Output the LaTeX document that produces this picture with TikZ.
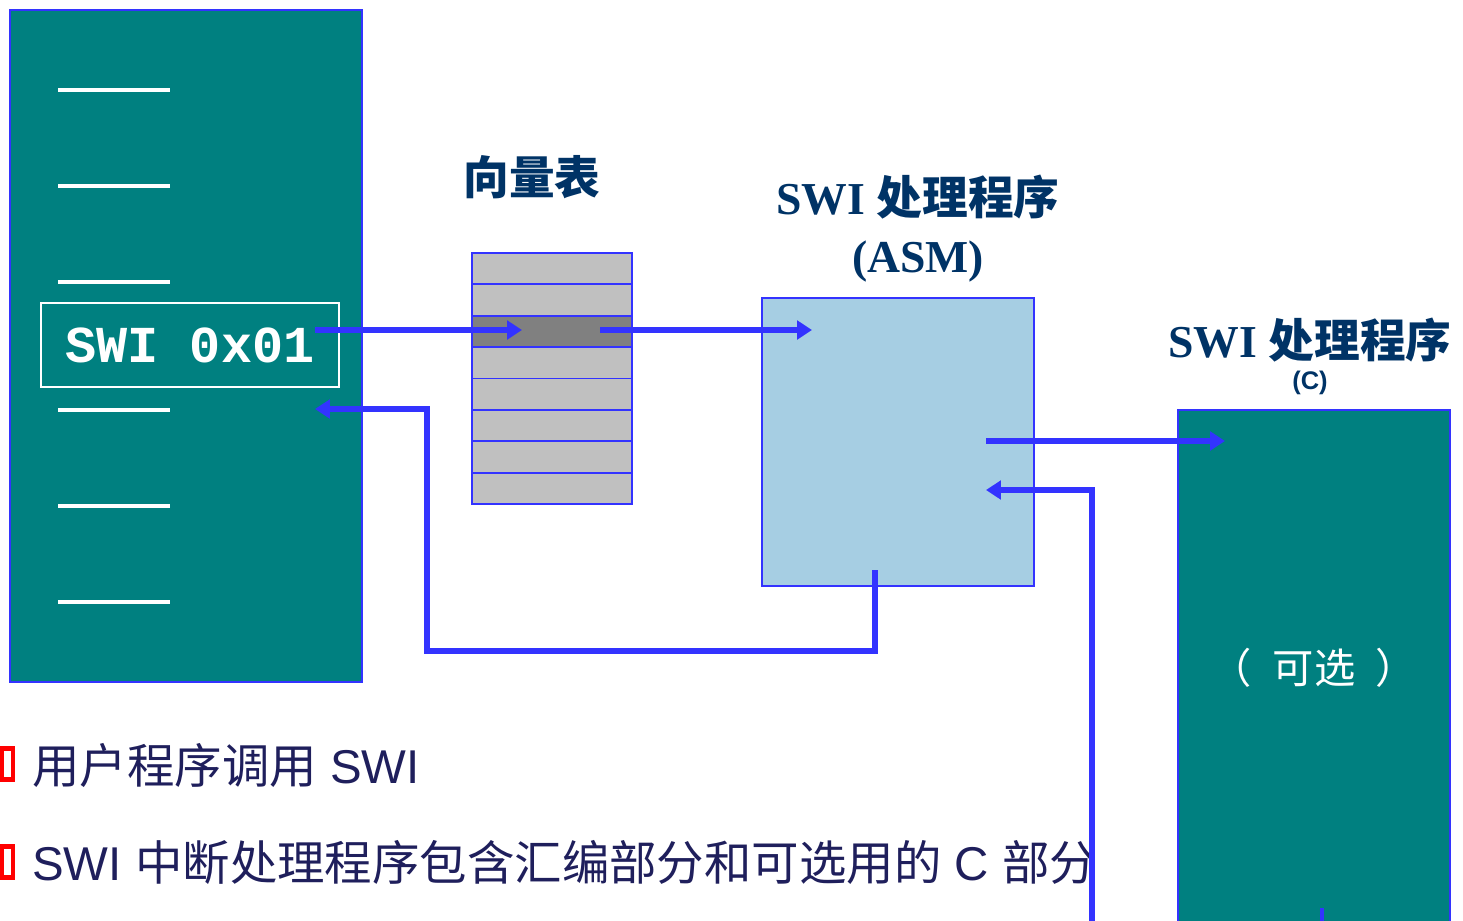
\documentclass[tikz,border=0pt]{standalone}
\usepackage{fontspec}
\setmainfont{Liberation Serif}
\setsansfont{Liberation Sans}
\setmonofont{Liberation Mono}
\newfontfamily\cjk{Noto Sans CJK SC}
\usetikzlibrary{arrows.meta,positioning}
\definecolor{tealbox}{HTML}{008080}
\definecolor{edgeblue}{HTML}{3333FF}
\definecolor{asmblue}{HTML}{A6CEE3}
\definecolor{rowgray}{HTML}{C0C0C0}
\definecolor{rowdark}{HTML}{808080}
\definecolor{titlenavy}{HTML}{003366}
\definecolor{textnavy}{HTML}{1F1F5C}
\definecolor{bulletred}{HTML}{FF0000}

\begin{document}
\begin{tikzpicture}[x=.02cm,y=-.02cm,
  box/.style={draw=edgeblue,line width=1.1pt,inner sep=0pt},
  vrow/.style={box,minimum width=3.2cm,minimum height=.6275cm},
  wire/.style={draw=edgeblue,line width=3.2pt},
  arr/.style={wire,-{Triangle[length=8.5pt,width=10.5pt]}},
  slot/.style={white,line width=2.3pt},
  title/.style={font=\fontsize{26}{33}\selectfont\bfseries,text=titlenavy,align=center,inner sep=0pt},
  bullet/.style={draw=bulletred,line width=2.6pt,fill=white,minimum width=.22cm,minimum height=.62cm,inner sep=0pt},
  item/.style={anchor=west,font=\sffamily\fontsize{27}{32}\selectfont,text=textnavy,inner sep=0pt}]
\clip (0,0) rectangle (1463,920);

\node[box,fill=tealbox,minimum width=7.04cm,minimum height=13.44cm] (prog) at (186,346) {};
\foreach \y in {90,186,282,410,506,602}
  \draw[slot] (58,\y) -- (170,\y);
\node[draw=white,line width=1.4pt,minimum width=5.96cm,minimum height=1.68cm,inner sep=0pt,
  text=white,font=\ttfamily\bfseries\fontsize{29.5}{30}\selectfont] (call) at (190,345) {SWI 0x01};

\node[title] (vtitle) at (532,177) {\cjk 向量表};
\foreach \i/\c in {1/rowgray,2/rowgray,3/rowdark,4/rowgray,5/rowgray,6/rowgray,7/rowgray,8/rowgray}
  \node[vrow,fill=\c] (v\i) at (552,{237.3+31.375*\i}) {};

\node[box,fill=asmblue,minimum width=5.44cm,minimum height=5.76cm] (asm) at (898,442) {};
\node[title] (asmtitle) at (918,229) {SWI {\cjk 处理程序}\\(ASM)};

\node[box,fill=tealbox,minimum width=5.44cm,minimum height=10.6cm] (cfunc) at (1314,675) {};
\node[title] (ctitle) at (1310,340) {SWI {\cjk 处理程序}};
\node[font=\sffamily\bfseries\fontsize{14.5}{16}\selectfont,text=titlenavy,inner sep=0pt] (clang) at (1310,383) {(C)};
\node[text=white,font=\cjk\fontsize{23.5}{26}\selectfont] (opt) at (1314,668) {（\kern.5em 可选\kern.5em ）};

\node[bullet] (b1) at (7.5,764) {};
\node[item] (t1) at (32,765) {{\cjk 用户程序调用} SWI};
\node[bullet] (b2) at (7.5,862) {};
\node[item] (t2) at (32,862) {SWI {\cjk 中断处理程序包含汇编部分和可选用的} C {\cjk 部分}};

\coordinate (callout) at (315,330);
\coordinate (vin) at (522,330);
\coordinate (vout) at (600,330);
\coordinate (asmin) at (812,330);
\coordinate (asmout) at (986,441);
\coordinate (cin) at (1225,441);
\coordinate (cret) at (1092,930);
\coordinate (asmret) at (986,490);
\coordinate (asmexit) at (875,570);
\coordinate (back) at (427,651);
\coordinate (progret) at (315,409);
\coordinate (ctail) at (1322,908);

\draw[arr] (callout) -- (vin);
\draw[arr] (vout) -- (asmin);
\draw[arr] (asmout) -- (cin);
\draw[arr] (cret) |- (asmret);
\draw[arr] (asmexit) |- (back) |- (progret);
\draw[wire,line width=2.3pt] (ctail) -- ++(0,20);
\end{tikzpicture}
\end{document}
